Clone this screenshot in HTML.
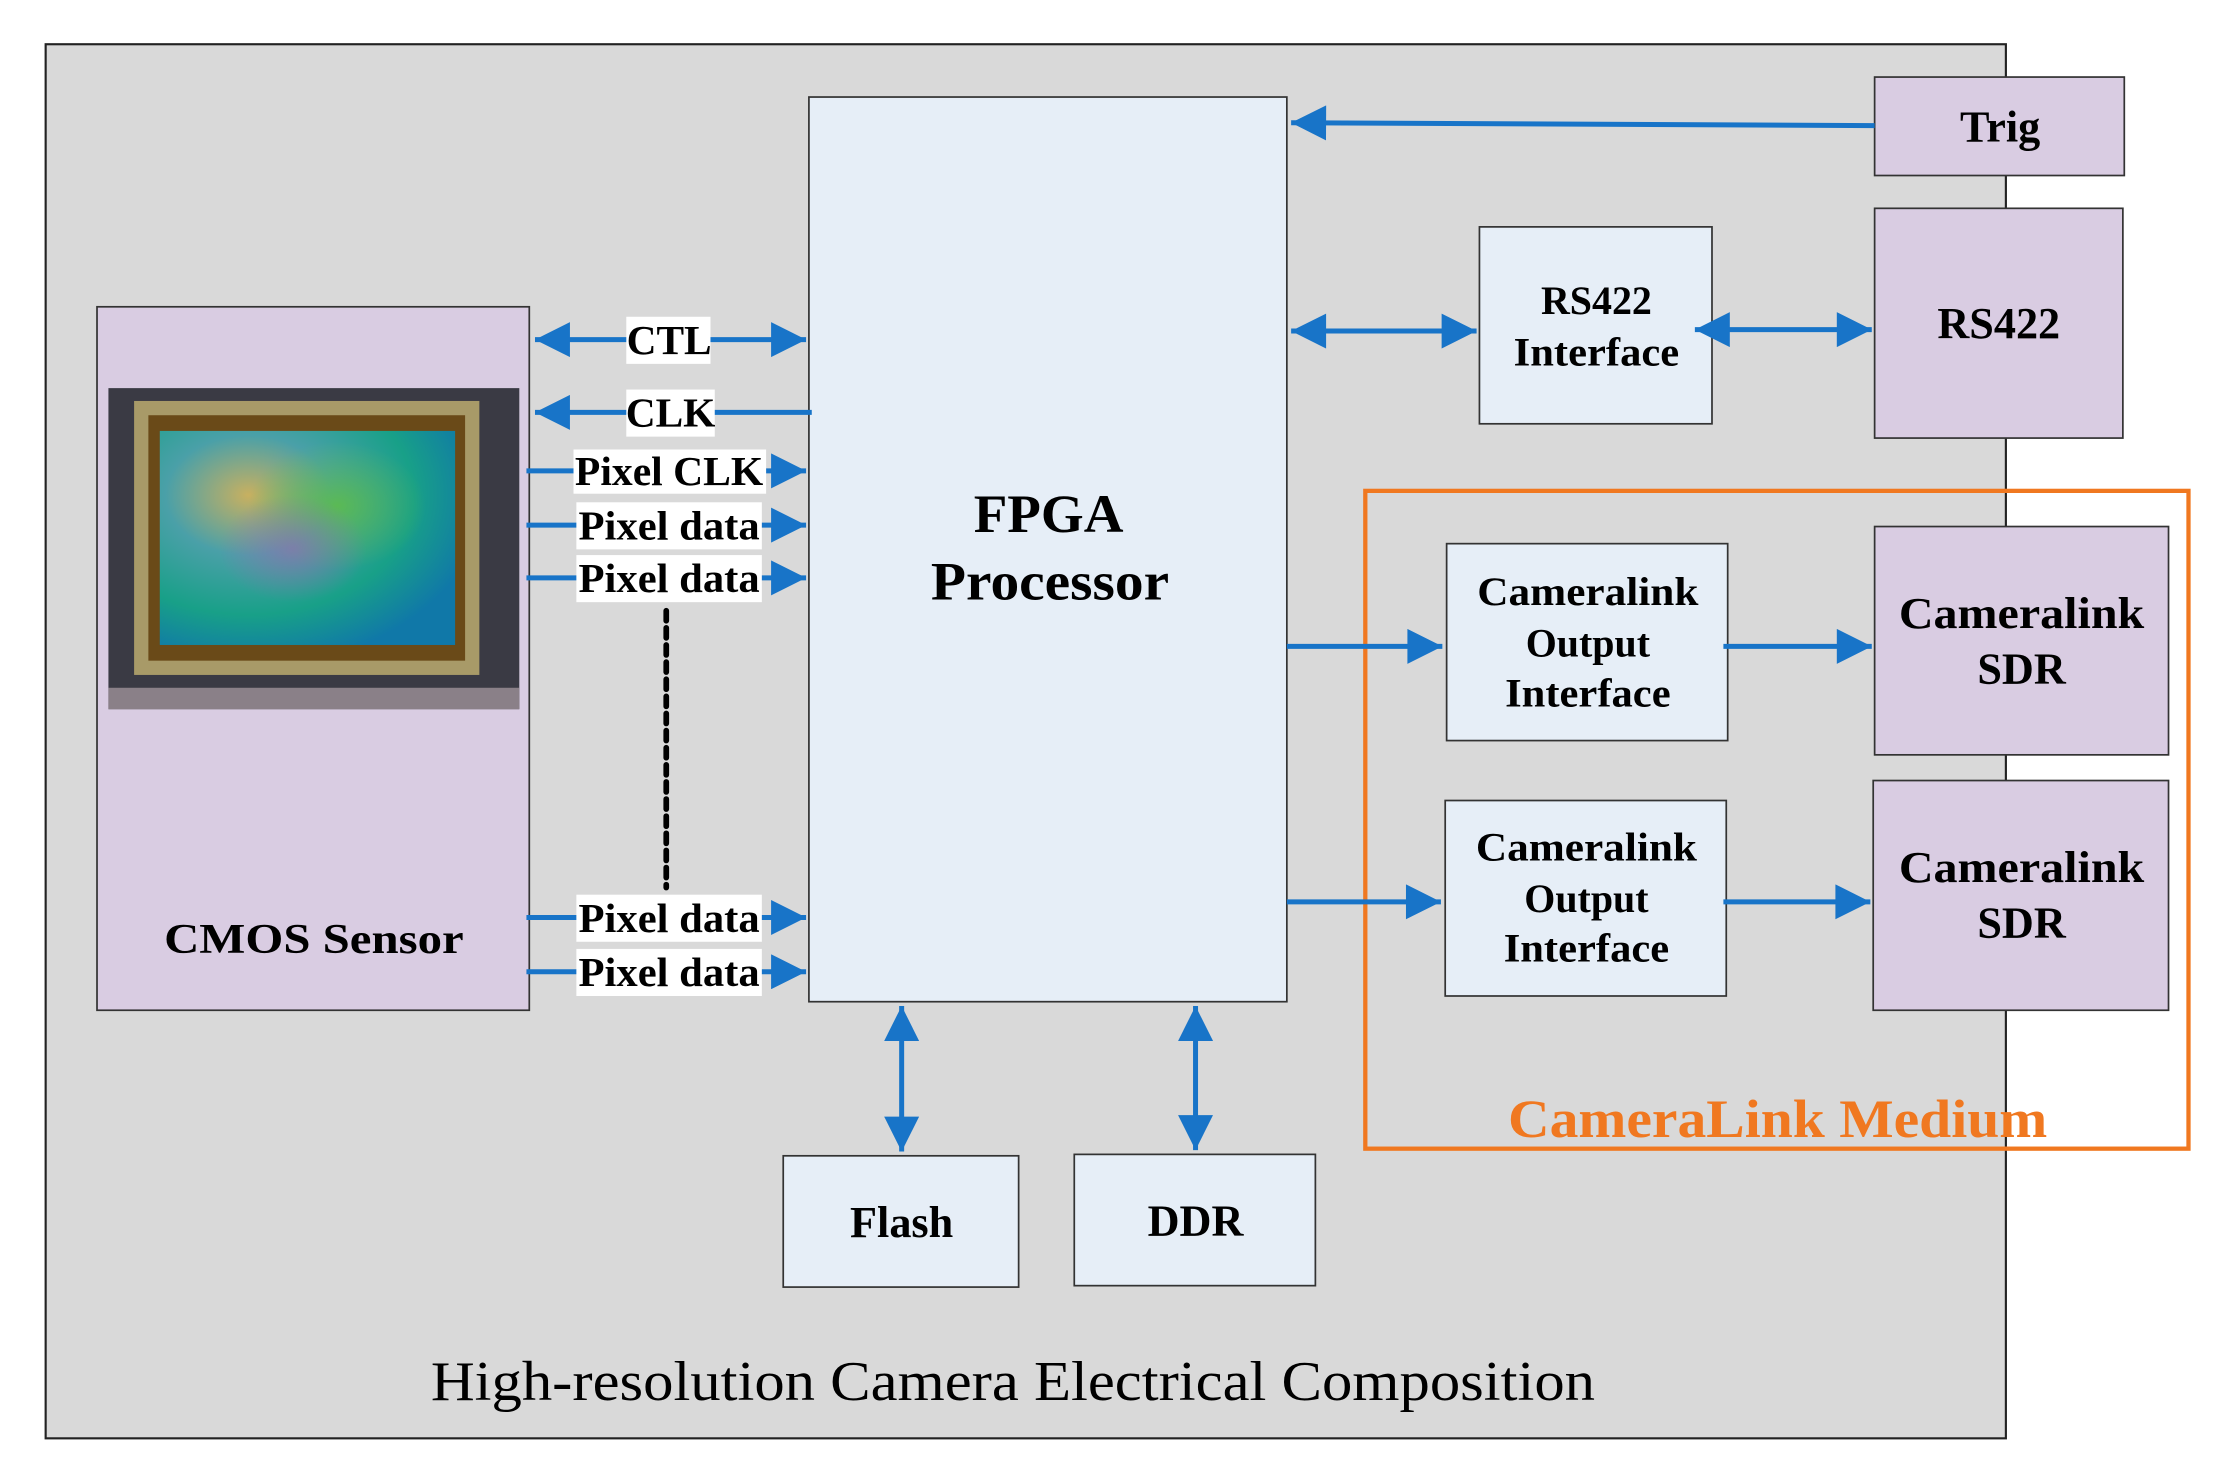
<!DOCTYPE html>
<html><head><meta charset="utf-8"><style>
html,body{margin:0;padding:0;background:#fff;}
svg{display:block;}
text{font-family:"Liberation Serif",serif;}
</style></head><body>
<svg width="2237" height="1484" viewBox="0 0 1568 1040" preserveAspectRatio="none" xmlns="http://www.w3.org/2000/svg">
<defs>
<marker id="a" viewBox="0 0 10 10" refX="10" refY="5" markerWidth="10" markerHeight="7" orient="auto-start-reverse" markerUnits="strokeWidth"><path d="M0,0 L10,5 L0,10 z" fill="#1874c8"/></marker>
<radialGradient id="g1" cx="0.3" cy="0.3" r="0.8"><stop offset="0" stop-color="#c8b060"/><stop offset="0.35" stop-color="#4aa0a8"/><stop offset="0.7" stop-color="#18a088"/><stop offset="1" stop-color="#1078a8"/></radialGradient>
<radialGradient id="g2" cx="0.6" cy="0.35" r="0.3"><stop offset="0" stop-color="#60c040" stop-opacity="0.8"/><stop offset="1" stop-color="#60c040" stop-opacity="0"/></radialGradient>
<radialGradient id="g3" cx="0.45" cy="0.55" r="0.25"><stop offset="0" stop-color="#9070b0" stop-opacity="0.7"/><stop offset="1" stop-color="#9070b0" stop-opacity="0"/></radialGradient>
</defs>
<rect x="32" y="31" width="1374" height="977" fill="#d9d9d9" stroke="#222" stroke-width="1.5"/>
<!-- CMOS -->
<rect x="68" y="215" width="303" height="493" fill="#d9cce2" stroke="#333" stroke-width="1.2"/>
<rect x="76" y="272" width="288" height="225" fill="#3a3a44"/>
<rect x="76" y="482" width="288" height="15" fill="#8a8088"/>
<rect x="94" y="281" width="242" height="192" fill="#a89a68"/>
<rect x="104" y="291" width="222" height="172" fill="#6a4a18"/>
<rect x="112" y="302" width="207" height="150" fill="url(#g1)"/>
<rect x="112" y="302" width="207" height="150" fill="url(#g2)"/>
<rect x="112" y="302" width="207" height="150" fill="url(#g3)"/>
<text x="220" y="668" font-size="30" font-weight="bold" text-anchor="middle" textLength="210" lengthAdjust="spacingAndGlyphs">CMOS Sensor</text>
<!-- FPGA -->
<rect x="567" y="68" width="335" height="634" fill="#e6eef7" stroke="#333" stroke-width="1.2"/>
<text x="735" y="373" font-size="38" font-weight="bold" text-anchor="middle" textLength="105" lengthAdjust="spacingAndGlyphs">FPGA</text>
<text x="736" y="420" font-size="38" font-weight="bold" text-anchor="middle" textLength="167" lengthAdjust="spacingAndGlyphs">Processor</text>
<!-- right boxes -->
<rect x="1314" y="54" width="175" height="69" fill="#d9cce2" stroke="#333" stroke-width="1.2"/>
<text x="1402" y="99" font-size="31" font-weight="bold" text-anchor="middle">Trig</text>
<rect x="1037" y="159" width="163" height="138" fill="#e6eef7" stroke="#333" stroke-width="1.2"/>
<text x="1119" y="220" font-size="28" font-weight="bold" text-anchor="middle">RS422</text>
<text x="1119" y="256" font-size="28" font-weight="bold" text-anchor="middle" textLength="116" lengthAdjust="spacingAndGlyphs">Interface</text>
<rect x="1314" y="146" width="174" height="161" fill="#d9cce2" stroke="#333" stroke-width="1.2"/>
<text x="1401" y="237" font-size="31" font-weight="bold" text-anchor="middle">RS422</text>
<rect x="1014" y="381" width="197" height="138" fill="#e6eef7" stroke="#333" stroke-width="1.2"/>
<text x="1113" y="424" font-size="28" font-weight="bold" text-anchor="middle" textLength="155" lengthAdjust="spacingAndGlyphs">Cameralink</text>
<text x="1113" y="460" font-size="28" font-weight="bold" text-anchor="middle">Output</text>
<text x="1113" y="495" font-size="28" font-weight="bold" text-anchor="middle" textLength="116" lengthAdjust="spacingAndGlyphs">Interface</text>
<rect x="1013" y="561" width="197" height="137" fill="#e6eef7" stroke="#333" stroke-width="1.2"/>
<text x="1112" y="603" font-size="28" font-weight="bold" text-anchor="middle" textLength="155" lengthAdjust="spacingAndGlyphs">Cameralink</text>
<text x="1112" y="639" font-size="28" font-weight="bold" text-anchor="middle">Output</text>
<text x="1112" y="674" font-size="28" font-weight="bold" text-anchor="middle" textLength="116" lengthAdjust="spacingAndGlyphs">Interface</text>
<rect x="1314" y="369" width="206" height="160" fill="#d9cce2" stroke="#333" stroke-width="1.2"/>
<text x="1417" y="440" font-size="31" font-weight="bold" text-anchor="middle" textLength="172" lengthAdjust="spacingAndGlyphs">Cameralink</text>
<text x="1417" y="479" font-size="31" font-weight="bold" text-anchor="middle">SDR</text>
<rect x="1313" y="547" width="207" height="161" fill="#d9cce2" stroke="#333" stroke-width="1.2"/>
<text x="1417" y="618" font-size="31" font-weight="bold" text-anchor="middle" textLength="172" lengthAdjust="spacingAndGlyphs">Cameralink</text>
<text x="1417" y="657" font-size="31" font-weight="bold" text-anchor="middle">SDR</text>
<rect x="957" y="344" width="577" height="461" fill="none" stroke="#f07820" stroke-width="3"/>
<text x="1246" y="797" font-size="38" font-weight="bold" fill="#f07820" text-anchor="middle" textLength="378" lengthAdjust="spacingAndGlyphs">CameraLink Medium</text>
<rect x="549" y="810" width="165" height="92" fill="#e6eef7" stroke="#333" stroke-width="1.2"/>
<text x="632" y="867" font-size="31" font-weight="bold" text-anchor="middle">Flash</text>
<rect x="753" y="809" width="169" height="92" fill="#e6eef7" stroke="#333" stroke-width="1.2"/>
<text x="838" y="866" font-size="31" font-weight="bold" text-anchor="middle">DDR</text>
<text x="710" y="981" font-size="39" text-anchor="middle" textLength="816" lengthAdjust="spacingAndGlyphs">High-resolution Camera Electrical Composition</text>
<!-- arrows -->
<g stroke="#1874c8" stroke-width="3.5" fill="none">
<line x1="375" y1="238" x2="565" y2="238" marker-start="url(#a)" marker-end="url(#a)"/>
<line x1="569" y1="289" x2="375" y2="289" marker-end="url(#a)"/>
<line x1="369" y1="330" x2="565" y2="330" marker-end="url(#a)"/>
<line x1="369" y1="368" x2="565" y2="368" marker-end="url(#a)"/>
<line x1="369" y1="405" x2="565" y2="405" marker-end="url(#a)"/>
<line x1="369" y1="643" x2="565" y2="643" marker-end="url(#a)"/>
<line x1="369" y1="681" x2="565" y2="681" marker-end="url(#a)"/>
<line x1="1314" y1="88" x2="905" y2="86" marker-end="url(#a)"/>
<line x1="905" y1="232" x2="1035" y2="232" marker-start="url(#a)" marker-end="url(#a)"/>
<line x1="1188" y1="231" x2="1312" y2="231" marker-start="url(#a)" marker-end="url(#a)"/>
<line x1="902" y1="453" x2="1011" y2="453" marker-end="url(#a)"/>
<line x1="1208" y1="453" x2="1312" y2="453" marker-end="url(#a)"/>
<line x1="902" y1="632" x2="1010" y2="632" marker-end="url(#a)"/>
<line x1="1208" y1="632" x2="1311" y2="632" marker-end="url(#a)"/>
<line x1="632" y1="705" x2="632" y2="807" marker-start="url(#a)" marker-end="url(#a)"/>
<line x1="838" y1="705" x2="838" y2="806" marker-start="url(#a)" marker-end="url(#a)"/>
</g>
<line x1="467" y1="428" x2="467" y2="622" stroke="#000" stroke-width="4" stroke-dasharray="7,5" stroke-linecap="round"/>
<!-- labels -->
<g fill="#fff">
<rect x="439" y="222" width="59" height="33"/>
<rect x="439" y="273" width="62" height="33"/>
<rect x="402" y="315" width="135" height="31"/>
<rect x="404" y="352" width="130" height="33"/>
<rect x="404" y="389" width="130" height="33"/>
<rect x="404" y="627" width="130" height="33"/>
<rect x="404" y="665" width="130" height="33"/>
</g>
<g font-size="29" font-weight="bold" text-anchor="middle">
<text x="469" y="248">CTL</text>
<text x="470" y="299">CLK</text>
<text x="469" y="340" textLength="132" lengthAdjust="spacingAndGlyphs">Pixel CLK</text>
<text x="469" y="378" textLength="127" lengthAdjust="spacingAndGlyphs">Pixel data</text>
<text x="469" y="415" textLength="127" lengthAdjust="spacingAndGlyphs">Pixel data</text>
<text x="469" y="653" textLength="127" lengthAdjust="spacingAndGlyphs">Pixel data</text>
<text x="469" y="691" textLength="127" lengthAdjust="spacingAndGlyphs">Pixel data</text>
</g>
</svg>
</body></html>
